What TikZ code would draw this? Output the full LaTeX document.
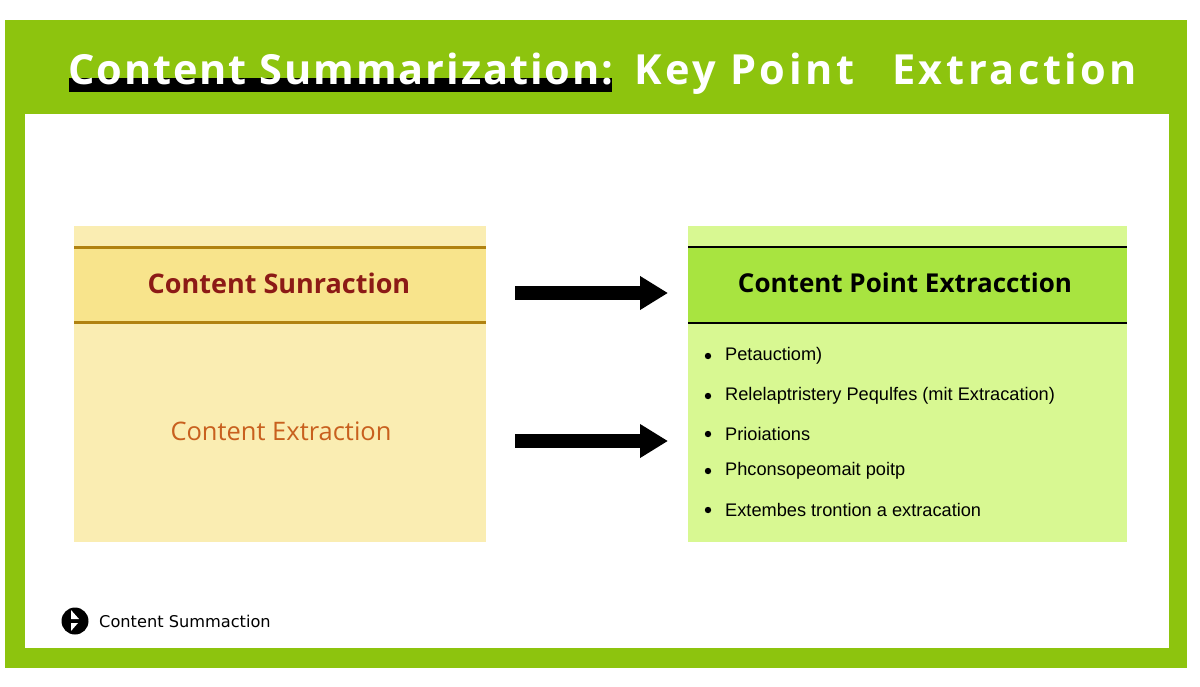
\documentclass[tikz,border=0pt]{standalone}
\usepackage{fontspec}
\setmainfont{Liberation Sans}
\newfontfamily\titlefont{Open Sans}
\newfontfamily\titlefontA[LetterSpace=4.6]{Open Sans}
\newfontfamily\titlefontB[LetterSpace=8.5]{Open Sans}
\newfontfamily\boxfont{Open Sans}
\newfontfamily\footfont{DejaVu Sans}
\usetikzlibrary{arrows.meta}
\definecolor{framegreen}{RGB}{141,196,14}
\definecolor{ylhead}{RGB}{248,228,140}
\definecolor{ylbody}{RGB}{250,237,178}
\definecolor{ylline}{RGB}{176,130,16}
\definecolor{grhead}{RGB}{168,228,64}
\definecolor{grbody}{RGB}{216,248,146}
\definecolor{redtxt}{RGB}{140,26,22}
\definecolor{orgtxt}{RGB}{200,96,30}
\tikzset{
  bigarrow/.style={line width=14pt,-{Triangle[length=28pt,width=32pt]}},
  bullet/.style={anchor=west,font=\fontsize{18.2}{21}\selectfont,inner sep=0pt},
  titletxt/.style={anchor=base west,inner sep=0pt,text=white},
}
\begin{document}
\begin{tikzpicture}[x=1pt,y=-1pt]
\useasboundingbox (0,0) rectangle (1200,686);
\fill[white] (0,0) rectangle (1200,686);
% frame
\fill[framegreen] (5,20) rectangle (1187,668);
\fill[white] (25,114) rectangle (1169,648);
% title
\fill[black] (69,78) rectangle (612,92);
\node[titletxt,font=\titlefontA\bfseries\fontsize{41.5}{44}\selectfont] (title1) at (68,84) {Content Summarization:};
\node[titletxt,font=\titlefontB\bfseries\fontsize{41.5}{44}\selectfont] (title2) at (634,84) {Key Point\hspace{38pt}Extraction};
% left box
\fill[ylbody] (74,226) rectangle (486,542);
\fill[ylhead] (74,247) rectangle (486,322);
\draw[ylline,line width=3pt] (74,247) -- (486,247);
\draw[ylline,line width=3pt] (74,322) -- (486,322);
\node[font=\boxfont\bfseries\fontsize{27}{30}\selectfont,text=redtxt] (lh) at (279,283) {Content Sunraction};
\node[font=\boxfont\fontsize{25.5}{28}\selectfont,text=orgtxt] (lb) at (281,431) {Content Extraction};
% right box
\fill[grbody] (688,226) rectangle (1127,542);
\fill[grhead] (688,247) rectangle (1127,323);
\draw[black,line width=2.5pt] (688,247) -- (1127,247);
\draw[black,line width=2.5pt] (688,323) -- (1127,323);
\node[font=\boxfont\bfseries\fontsize{26}{30}\selectfont,text=black] (rh) at (905,283) {Content Point Extracction};
% arrows
\coordinate (a1s) at (515,293);
\coordinate (a1e) at (668,293);
\coordinate (a2s) at (515,441);
\coordinate (a2e) at (668,441);
\draw[bigarrow] (a1s) -- (a1e);
\draw[bigarrow] (a2s) -- (a2e);
% bullets
\foreach \yy/\tt [count=\i] in {356/{Petauctiom)},396/{Relelaptristery Pequlfes (mit Extracation)},434/{Prioiations},471/{Phconsopeomait poitp},510/{Extembes trontion a extracation}}{
  \fill[black] (708,\yy) circle (3.2pt);
  \node[bullet] (b\i) at (725,\yy) {\tt};
}
% footer
\fill[black] (75,621) circle (13.5pt);
\fill[white] (71,610) -- (79,619) -- (71,619) -- cycle;
\fill[white] (71,623) -- (78,623) -- (71,631) -- cycle;
\node[anchor=west,inner sep=0pt,font=\footfont\fontsize{16.2}{19}\selectfont] (foot) at (99,621) {Content Summaction};
\end{tikzpicture}
\end{document}
